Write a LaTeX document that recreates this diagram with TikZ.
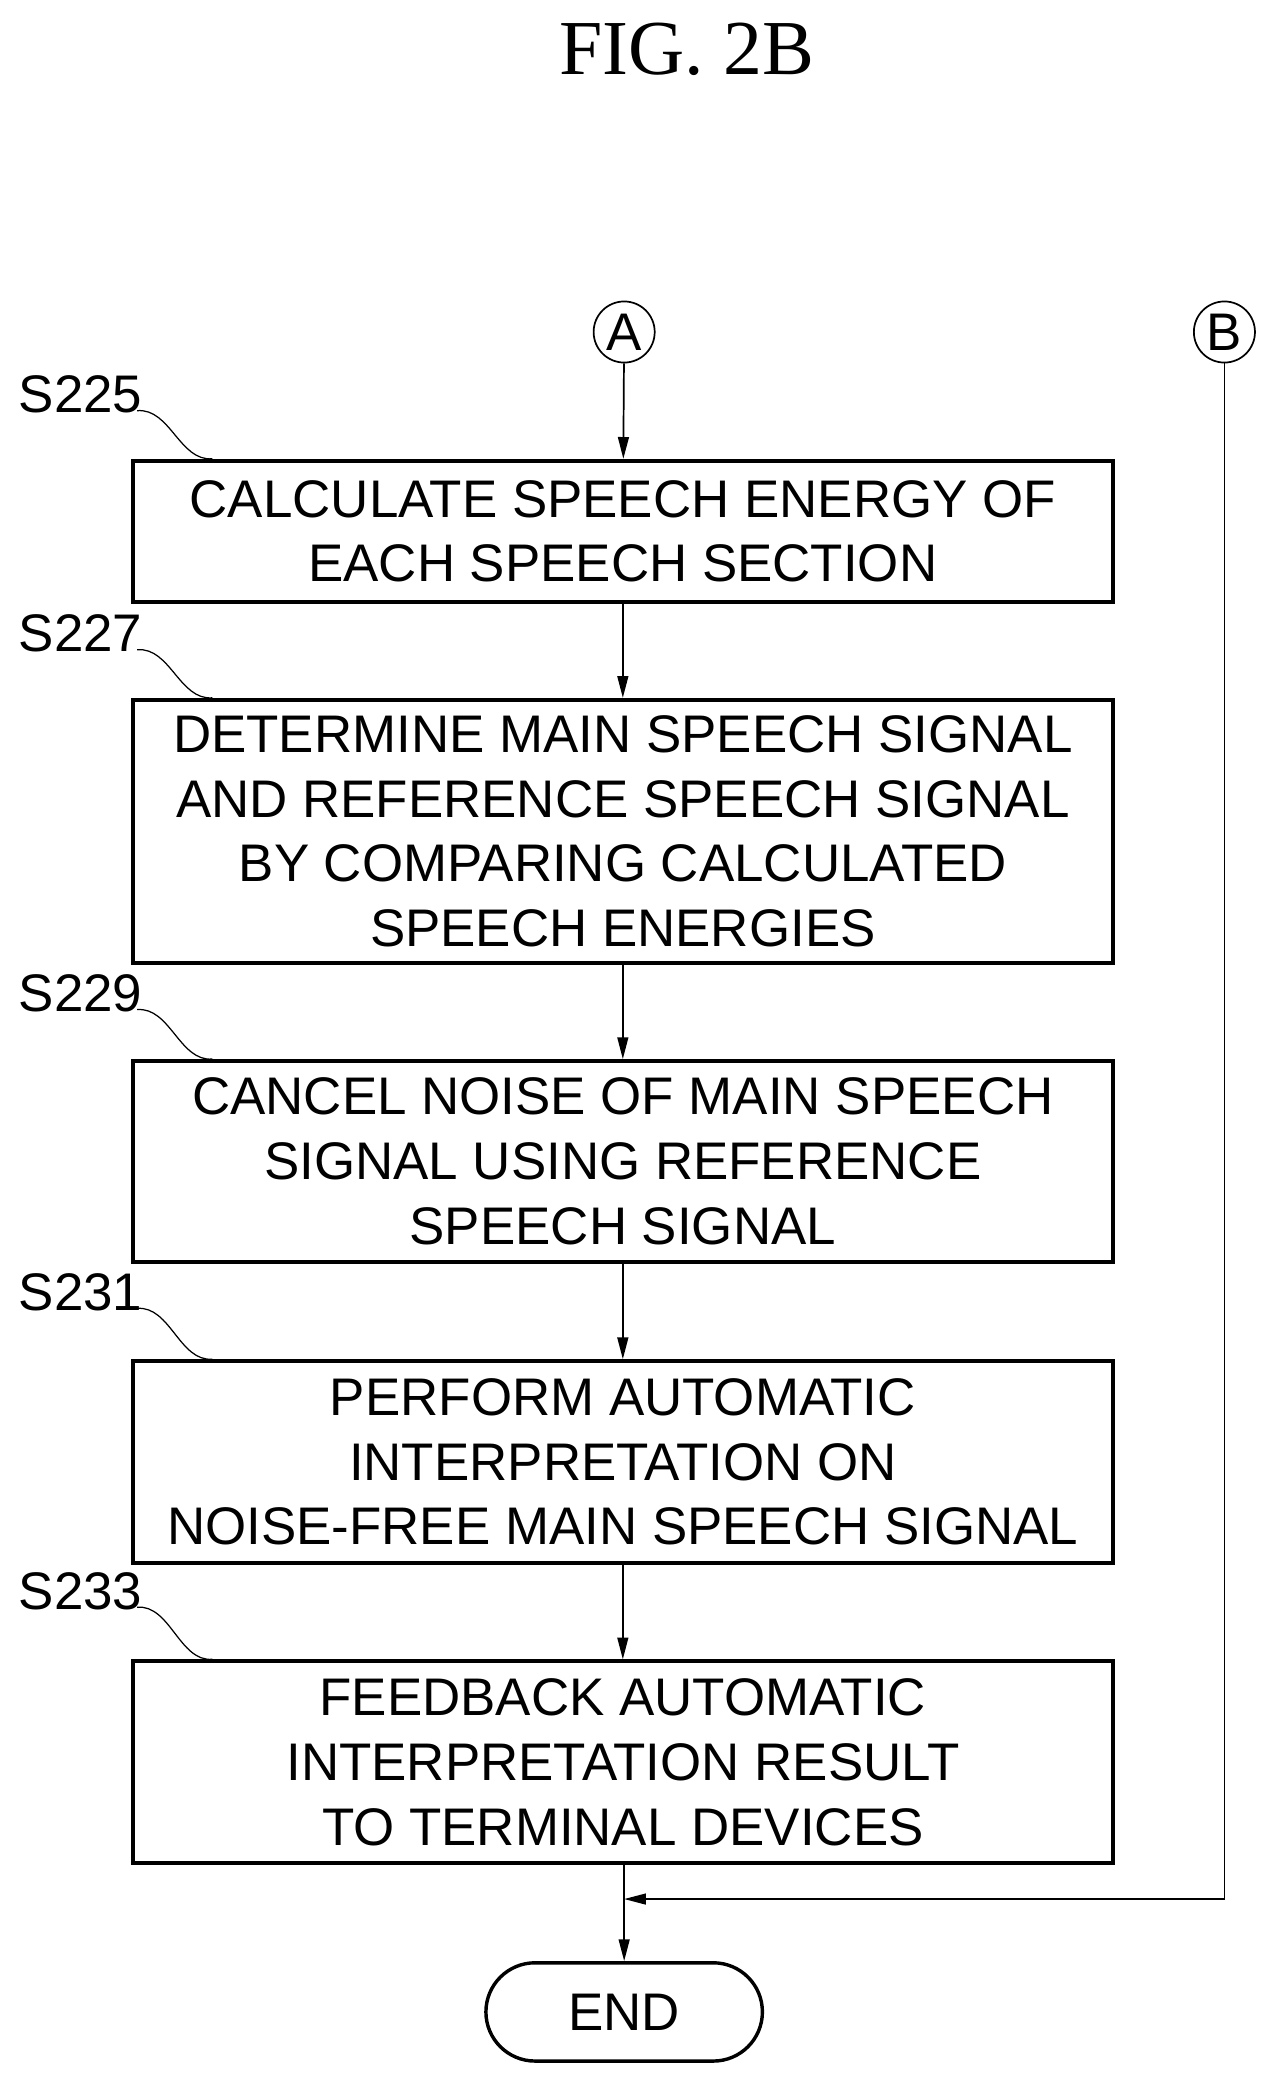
\documentclass[tikz,border=0pt]{standalone}
\usepackage{fontspec}
\setmainfont{Liberation Sans}
\newfontfamily\serifT{Liberation Serif}
\usetikzlibrary{arrows.meta,shapes.misc}
\begin{document}
\begin{tikzpicture}[x=0.03cm,y=-0.03cm,
  box/.style={draw,line width=2.6pt,minimum width=22.14cm,inner sep=0pt,align=center,
     font=\fontsize{34}{41.5}\selectfont},
  lab/.style={anchor=west,font=\fontsize{34}{40}\selectfont},
  con/.style={line width=1.1pt,-{Triangle[length=14pt,width=7pt]}},
  circ/.style={draw,circle,line width=1.1pt,minimum size=1.38cm,inner sep=0pt,font=\fontsize{34}{40}\selectfont}]
\useasboundingbox (0,0) rectangle (958,1561);
\node[font=\serifT\fontsize{50}{55}\selectfont] (t) at (517,37) {FIG. 2B};
\node[circ] (A) at (470,250) {A};
\node[circ] (B) at (922,250) {B};
\node[box,minimum height=3.18cm] (b1) at (469,400) {CALCULATE SPEECH ENERGY OF\\EACH SPEECH SECTION};
\node[box,minimum height=5.94cm] (b2) at (469,626) {DETERMINE MAIN SPEECH SIGNAL\\AND REFERENCE SPEECH SIGNAL\\BY COMPARING CALCULATED\\SPEECH ENERGIES};
\node[box,minimum height=4.53cm] (b3) at (469,874.5) {CANCEL NOISE OF MAIN SPEECH\\SIGNAL USING REFERENCE\\SPEECH SIGNAL};
\node[box,minimum height=4.56cm] (b4) at (469,1101) {PERFORM AUTOMATIC\\INTERPRETATION ON\\NOISE-FREE MAIN SPEECH SIGNAL};
\node[box,minimum height=4.56cm] (b5) at (469,1327) {FEEDBACK AUTOMATIC\\INTERPRETATION RESULT\\TO TERMINAL DEVICES};
\node[draw,rounded rectangle,line width=2.2pt,minimum width=6.48cm,minimum height=2.22cm,font=\fontsize{34}{40}\selectfont] (end) at (470,1515) {END};
\foreach \n/\y/\t in {1/297/S225,2/477/S227,3/748/S229,4/973/S231,5/1198/S233}{
  \node[lab] (s\n) at (10,\y) {\t};
  \draw[line width=0.8pt] (s\n.south east) ++(-8,-6) .. controls +(25,-2) and +(-25,2) .. (b\n.north west -| 160,0) ;
}
\draw[con] (A) -- (b1);
\draw[con] (b1) -- (b2);
\draw[con] (b2) -- (b3);
\draw[con] (b3) -- (b4);
\draw[con] (b4) -- (b5);
\draw[con] (b5.south -| end.north) -- (end.north);
\coordinate (j) at (470,1430);
\draw[con] (B.south) |- (j);
\end{tikzpicture}
\end{document}
